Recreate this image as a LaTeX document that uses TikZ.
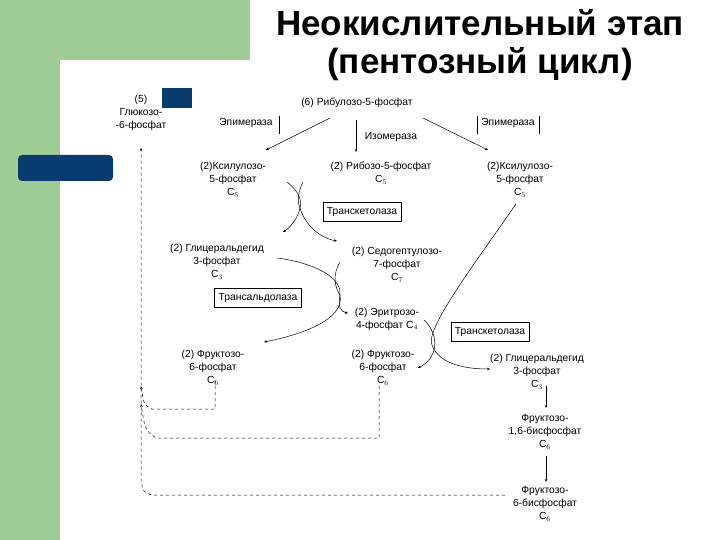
\documentclass[tikz,border=0pt]{standalone}
\usepackage{fontspec}
\setmainfont{Liberation Sans}
\usetikzlibrary{arrows.meta}
\definecolor{sgreen}{RGB}{160,205,150}
\definecolor{sblue}{RGB}{8,60,110}
\begin{document}
\begin{tikzpicture}[x=1pt,y=-1pt,
  t/.style={font=\fontsize{10.3}{13}\selectfont,align=center,inner sep=1pt},
  enz/.style={t,draw,minimum height=19pt,inner xsep=4pt},
  ar/.style={-{Stealth[length=3pt,width=2.5pt]},line width=0.5pt},
  da/.style={dashed,line width=0.5pt}]
\useasboundingbox (0,0) rectangle (720,540);
\fill[sgreen] (0,0) rectangle (250,60);
\fill[sgreen] (0,0) rectangle (60,540);
\fill[white] (60,540) -- (60,90) arc[start angle=180,end angle=90,radius=30] -- (250,60) -- (250,0) -- (720,0) -- (720,540) -- cycle;
\fill[sblue] (162,88) rectangle (192,108);
\fill[sblue,rounded corners=4pt] (18,155) rectangle (113,181);
\node[font=\bfseries\fontsize{35}{38}\selectfont,align=center] (title) at (480,45) {Неокислительный этап\\(пентозный цикл)};
% nodes
\node[t] (g6p) at (141,113) {(5)\\Глюкозо-\\-6-фосфат};
\node[t] (rib) at (357,103) {(6) Рибулозо-5-фосфат};
\node[t] (epl) at (246,123) {Эпимераза};
\node[t] (epr) at (508,123) {Эпимераза};
\draw (279,116) -- (279,134);
\draw (477,116) -- (477,134) (539,116) -- (539,134);
\node[t] (iso) at (391,137) {Изомераза};
\node[t] (xl) at (233,180) {(2)Ксилулозо-\\5-фосфат\\C$_5$};
\node[t] (r5p) at (381,173) {(2) Рибозо-5-фосфат\\C$_5$};
\node[t] (xr) at (520,180) {(2)Ксилулозо-\\5-фосфат\\C$_5$};
\node[enz] (tk1) at (362,212) {Транскетолаза};
\node[t] (gapl) at (217,262) {(2) Глицеральдегид\\3-фосфат\\C$_3$};
\node[t] (sed) at (397,265) {(2) Седогептулозо-\\7-фосфат\\C$_7$};
\node[enz] (ta) at (258,298) {Трансальдолаза};
\node[t] (ery) at (387,319) {(2) Эритрозо-\\4-фосфат C$_4$};
\node[enz] (tk2) at (490,332) {Транскетолаза};
\node[t] (fl) at (213,368) {(2) Фруктозо-\\6-фосфат\\C$_6$};
\node[t] (fm) at (383,368) {(2) Фруктозо-\\6-фосфат\\C$_6$};
\node[t] (gapr) at (537,372) {(2) Глицеральдегид\\3-фосфат\\C$_3$};
\node[t] (fbp) at (545,432) {Фруктозо-\\1,6-бисфосфат\\C$_6$};
\node[t] (f6p) at (545,504) {Фруктозо-\\6-бисфосфат\\C$_6$};
% coordinates
\coordinate (a1) at (330,118); \coordinate (a1e) at (266,150);
\coordinate (a2) at (423,118); \coordinate (a2e) at (488,150);
\coordinate (a3) at (356,120); \coordinate (a3e) at (356,152);
\draw[ar] (a1) -- (a1e);
\draw[ar] (a2) -- (a2e);
\draw[ar] (a3) -- (a3e);
% crossing 1
\draw[ar] (287,182) .. controls (300,192) and (302,202) .. (300,208) .. controls (298,218) and (290,228) .. (283,232);
\draw[ar] (303,182) .. controls (298,192) and (297,202) .. (300,208) .. controls (305,225) and (320,238) .. (337,241);
% crossing 2
\draw[ar] (278,258) .. controls (325,265) and (342,282) .. (340,295) .. controls (338,305) and (340,312) .. (348,313);
\draw[ar] (340,262) .. controls (332,275) and (335,288) .. (340,295) .. controls (345,320) and (300,335) .. (264,342);
% crossing 3
\draw[ar] (424,320) .. controls (440,335) and (438,358) .. (418,368);
\draw[ar] (516,204) .. controls (470,270) and (425,330) .. (432,345) .. controls (438,362) and (460,369) .. (490,369);
% lower chain
\draw[ar] (546,386) -- (546,408);
\draw[ar] (546,456) -- (546,482);
% dashed returns
\draw[da,-{Stealth[length=3pt,width=2.5pt]}] (215,380) -- (215,409) -- (152,409) .. controls (144,405) .. (141,386);
\draw[da,-{Stealth[length=3pt,width=2.5pt]}] (379,386) -- (379,438) -- (156,438) .. controls (145,430) .. (141,404);
\draw[da,-{Stealth[length=3pt,width=2.5pt]}] (505,495) -- (152,495) .. controls (143,492) .. (141,480) -- (141,148);
\end{tikzpicture}
\end{document}
